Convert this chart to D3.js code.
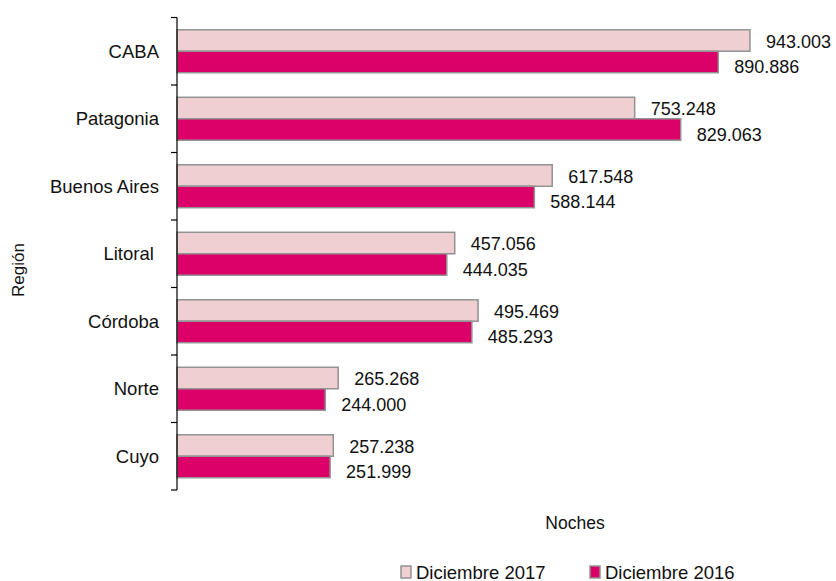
<!DOCTYPE html>
<html>
<head>
<meta charset="utf-8">
<script src="https://cdn.jsdelivr.net/npm/d3@7"></script>
<style>
  body { margin: 0; background: #fff; }
  text { font-family: "Liberation Sans", Arial, sans-serif; fill: #111; }
</style>
</head>
<body>
<svg width="836" height="581"></svg>
<script>
var svg = d3.select("svg");

// data
var regiones = ["CABA", "Patagonia", "Buenos Aires", "Litoral ", "Córdoba", "Norte", "Cuyo"];
var series = ["Diciembre 2017", "Diciembre 2016"];
var dic2017 = [943003, 753248, 617548, 457056, 495469, 265268, 257238];
var dic2016 = [890886, 829063, 588144, 444035, 485293, 244000, 251999];
var colores = ["#efcfd2", "#dc0069"];

var rows = regiones.map(function(r, i) {
  return { region: r, values: [dic2017[i], dic2016[i]] };
});

var fs = 18;

// scales
var x = d3.scaleLinear().domain([0, 1000000]).range([177, 784.6]);
var y = d3.scaleBand().domain(regiones).range([17.5, 490])
  .paddingInner(0.364).paddingOuter(0.182);
var step = y.step();
var ySub = d3.scaleBand().domain([0, 1]).range([0, y.bandwidth()]);

var fmt = function(v) { return d3.format(",")(v).replace(/,/g, "."); };

// bars
var g = svg.append("g").attr("class", "bars")
  .selectAll("g")
  .data(rows)
  .enter().append("g")
  .attr("transform", function(d) { return "translate(0," + y(d.region) + ")"; });

g.selectAll("rect")
  .data(function(d) { return d.values; })
  .enter().append("rect")
  .attr("x", x(0))
  .attr("y", function(d, i) { return ySub(i); })
  .attr("width", function(d) { return x(d) - x(0); })
  .attr("height", ySub.bandwidth())
  .attr("fill", function(d, i) { return colores[i]; })
  .attr("stroke", "#929292")
  .attr("stroke-width", 1.5);

// value labels
g.selectAll("text")
  .data(function(d) { return d.values; })
  .enter().append("text")
  .attr("x", function(d) { return x(d) + 16; })
  .attr("y", function(d, i) { return ySub(i) + ySub.bandwidth() / 2 + (i === 0 ? 1 : 5); })
  .attr("dy", "0.35em")
  .attr("font-size", fs)
  .text(function(d) { return fmt(d); });

// y axis line and ticks at band boundaries
var axis = svg.append("g").attr("class", "axis");
axis.append("line")
  .attr("x1", x(0)).attr("x2", x(0))
  .attr("y1", y.range()[0]).attr("y2", y.range()[1])
  .attr("stroke", "#000").attr("stroke-width", 1.2);
axis.selectAll(".tick")
  .data(d3.range(regiones.length + 1))
  .enter().append("line")
  .attr("x1", x(0) - 6).attr("x2", x(0))
  .attr("y1", function(k) { return y.range()[0] + k * step; })
  .attr("y2", function(k) { return y.range()[0] + k * step; })
  .attr("stroke", "#000").attr("stroke-width", 1.2);

axis.selectAll(".cat")
  .data(regiones)
  .enter().append("text")
  .attr("x", 159)
  .attr("y", function(d) { return y(d) + y.bandwidth() / 2; })
  .attr("dy", "0.35em")
  .attr("text-anchor", "end")
  .attr("font-size", fs + 0.5)
  .style("white-space", "pre")
  .text(function(d) { return d; });

// axis titles
svg.append("text")
  .attr("transform", "translate(24,270) rotate(-90)")
  .attr("text-anchor", "middle")
  .attr("font-size", fs - 1)
  .text("Región");

svg.append("text")
  .attr("x", 575).attr("y", 529)
  .attr("text-anchor", "middle")
  .attr("font-size", fs - 0.5)
  .text("Noches");

// legend
var legX = [401, 590];
var leg = svg.append("g").attr("class", "legend")
  .selectAll("g")
  .data(series)
  .enter().append("g")
  .attr("transform", function(d, i) { return "translate(" + legX[i] + ",566)"; });
leg.append("rect")
  .attr("width", 10).attr("height", 12)
  .attr("fill", function(d, i) { return colores[i]; })
  .attr("stroke", "#929292").attr("stroke-width", 1.5);
leg.append("text")
  .attr("x", 15).attr("y", 12.5)
  .attr("font-size", fs + 0.5)
  .text(function(d) { return d; });
</script>
</body>
</html>
